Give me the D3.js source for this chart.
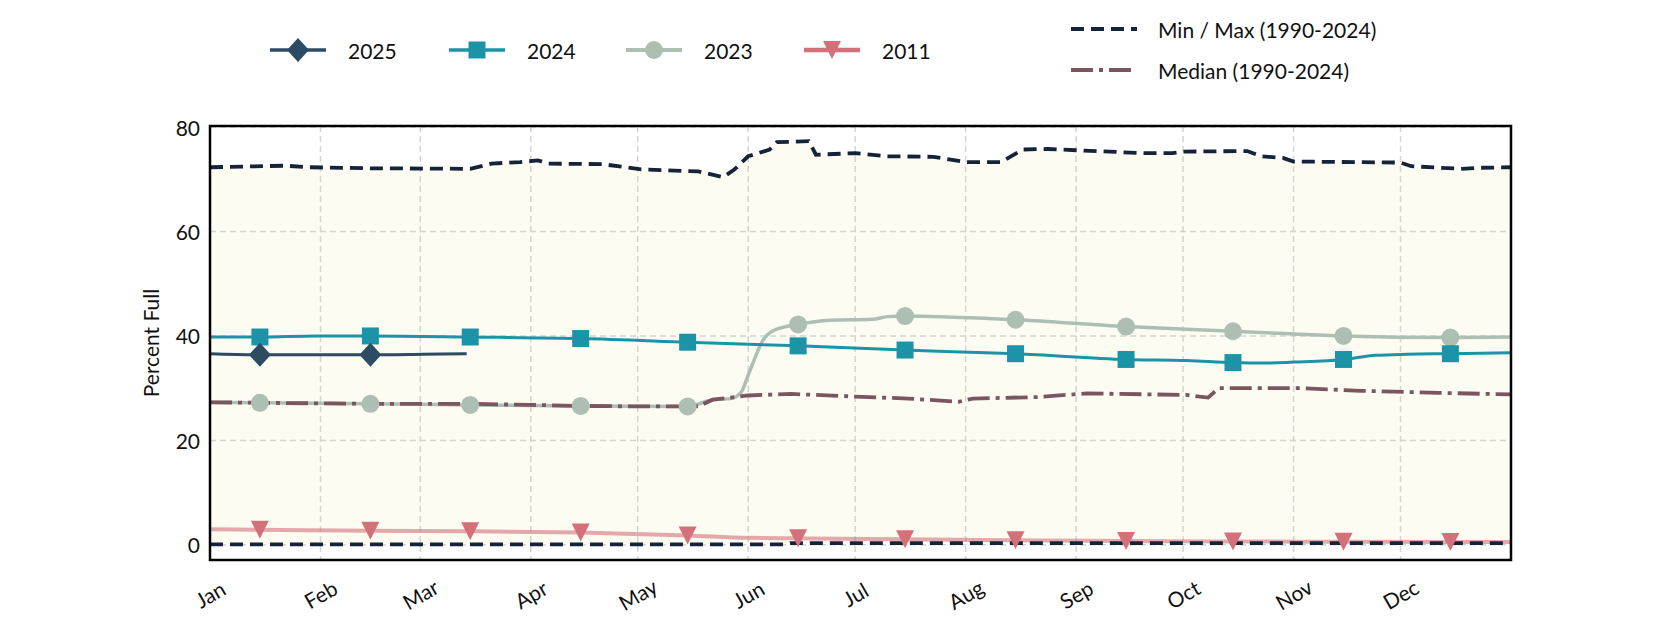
<!DOCTYPE html>
<html><head><meta charset="utf-8">
<script src="https://cdn.jsdelivr.net/npm/d3@7"></script>
<style>
html,body{margin:0;padding:0;background:#fff;}
svg text{font-family:Lato,"Open Sans",sans-serif;fill:#111;}
</style></head>
<body><svg id="chart" width="1680" height="630"></svg>
<script>
// ---------- data (day of year, 0 = Jan 1) ----------
const monthLabels = ["Jan","Feb","Mar","Apr","May","Jun","Jul","Aug","Sep","Oct","Nov","Dec"];
const monthStartDays = [0,31,59,90,120,151,181,212,243,273,304,334];
const markerDays = [14,45,73,104,134,165,195,226,257,287,318,348];
const yTicks = [0,20,40,60,80];

const maxDays = [0,21,28,45,73,79,87,92,95,110,121,137,144,147,151,157,159,168,170,181,190,203,212,222,228,235,262,270,273,291,295,301,304,334,337,351,356,365];
const maxVals = [72.3,72.6,72.3,72.1,72.0,73.0,73.3,73.6,73.0,72.9,71.9,71.5,70.4,71.8,74.4,75.7,77.1,77.3,74.7,75.0,74.4,74.3,73.3,73.3,75.7,75.8,75.0,75.0,75.3,75.4,74.4,74.1,73.4,73.2,72.5,72.0,72.2,72.3];

const minDays = [0,161,163,365];
const minVals = [0.1,0.1,0.35,0.35];

const medianDays = [0,14,45,73,90,104,120,137,141,151,163,181,196,210,214,232,246,274,280,283,306,323,345,365];
const medianVals = [27.3,27.2,27.0,27.0,26.8,26.6,26.5,26.5,27.8,28.6,28.9,28.4,28.0,27.4,28.0,28.3,29.0,28.7,28.2,30.0,30.0,29.5,29.1,28.8];

const days2025 = [0,14,45,60,72];
const vals2025 = [36.6,36.4,36.4,36.5,36.6];

const days2024 = [0,14,30,45,73,104,134,151,165,195,213,226,257,274,287,295,304,318,327,336,348,365];
const vals2024 = [39.8,39.8,40.0,40.0,39.8,39.5,38.8,38.4,38.1,37.3,36.9,36.6,35.5,35.3,34.9,34.8,35.0,35.5,36.3,36.5,36.6,36.8];

const days2023 = [0,14,45,73,104,134,141,146,149,151,153,155,158,165,174,186,190,195,205,226,257,287,303,318,348,365];
const vals2023 = [27.3,27.2,27.0,26.8,26.6,26.5,27.8,28.0,29.2,32.5,36.0,39.0,41.0,42.2,43.0,43.2,43.7,43.8,43.7,43.1,41.8,40.9,40.4,40.0,39.7,39.8];

const days2011 = [0,14,45,73,104,134,151,165,195,226,257,287,318,348,365];
const vals2011 = [3.0,2.9,2.7,2.6,2.35,1.8,1.35,1.25,1.05,0.9,0.75,0.65,0.6,0.55,0.55];

// ---------- layout ----------
const W = 1680, H = 630;
const M = {left:210, right:169, top:126, bottom:70};
const svg = d3.select("#chart");
const x = d3.scaleLinear().domain([0,365]).range([M.left, W - M.right]);
const y = d3.scaleLinear().domain([-2.9,80.2]).range([H - M.bottom, M.top]);

const zip = (ds, vs) => ds.map((d,i)=>({d, v:vs[i]}));
const maxData = zip(maxDays, maxVals), minData = zip(minDays, minVals);

svg.append("defs").append("clipPath").attr("id","clip")
  .append("rect").attr("x",M.left).attr("y",M.top)
  .attr("width",W-M.left-M.right).attr("height",H-M.top-M.bottom);

const plot = svg.append("g").attr("clip-path","url(#clip)");
const gFill = plot.append("g");
const gGrid = plot.append("g");
const gLines = plot.append("g");
const gRef = plot.append("g");
const gMarks = svg.append("g");

// fill between min and max
const allDays = Array.from(new Set([...maxDays, ...minDays])).sort((a,b)=>a-b);
function interp(data, d){
  for(let i=0;i<data.length-1;i++){
    if(d>=data[i].d && d<=data[i+1].d){
      const t=(d-data[i].d)/(data[i+1].d-data[i].d||1);
      return data[i].v + t*(data[i+1].v-data[i].v);
    }
  }
  return data[data.length-1].v;
}
const band = allDays.map(d=>({d, lo:interp(minData,d), hi:interp(maxData,d)}));
gFill.append("path").datum(band)
  .attr("fill","#fcfcf2")
  .attr("d", d3.area().x(p=>x(p.d)).y0(p=>y(p.lo)).y1(p=>y(p.hi)));

// grid
gGrid.selectAll("line.v").data(monthStartDays.slice(1)).join("line")
  .attr("x1",d=>x(d)).attr("x2",d=>x(d)).attr("y1",M.top).attr("y2",H-M.bottom)
  .attr("stroke","#d4d4d0").attr("stroke-width",1.5).attr("stroke-dasharray","6,4");
gGrid.selectAll("line.h").data(yTicks).join("line")
  .attr("x1",M.left).attr("x2",W-M.right).attr("y1",d=>y(d)).attr("y2",d=>y(d))
  .attr("stroke","#d4d4d0").attr("stroke-width",1.5).attr("stroke-dasharray","6,4");

const lineGen = d3.line().x(p=>x(p.d)).y(p=>y(p.v));
const smoothGen = d3.line().x(p=>x(p.d)).y(p=>y(p.v)).curve(d3.curveMonotoneX);

// series
const series = [
  {name:"2011", days:days2011, vals:vals2011, color:"#d4707a", lineOpacity:0.6, width:4, shape:"tri"},
  {name:"2023", days:days2023, vals:vals2023, color:"#adbfb3", lineOpacity:1, width:3.5, shape:"circle"},
  {name:"2024", days:days2024, vals:vals2024, color:"#1a94a6", lineOpacity:1, width:3, shape:"square"},
  {name:"2025", days:days2025, vals:vals2025, color:"#2d4b63", lineOpacity:1, width:3, shape:"diamond"},
];

function markerPath(shape){
  if(shape==="tri") return "M-9,-9L9,-9L0,9Z";
  if(shape==="square") return "M-8.5,-8.5H8.5V8.5H-8.5Z";
  if(shape==="diamond") return "M0,-12L11,0L0,12L-11,0Z";
  return d3.symbol().type(d3.symbolCircle).size(Math.PI*81)();
}

series.forEach(s=>{
  const data = zip(s.days, s.vals);
  gLines.append("path").datum(data)
    .attr("fill","none").attr("stroke",s.color).attr("stroke-opacity",s.lineOpacity)
    .attr("stroke-width",s.width).attr("stroke-linejoin","round").attr("d", smoothGen);
  const mk = data.filter(p=>markerDays.includes(p.d));
  gMarks.append("g").selectAll("path").data(mk).join("path")
    .attr("transform",p=>`translate(${x(p.d)},${y(p.v)})`)
    .attr("d", markerPath(s.shape)).attr("fill", s.color);
});

// median
gRef.append("path").datum(zip(medianDays, medianVals))
  .attr("fill","none").attr("stroke","#7b5560").attr("stroke-width",3.8)
  .attr("stroke-dasharray","22,6,4,6").attr("d", lineGen);

// max/min
[maxData, minData].forEach(dd=>{
  gRef.append("path").datum(dd)
    .attr("fill","none").attr("stroke","#14233a").attr("stroke-width",3.8)
    .attr("stroke-dasharray","13,7").attr("d", lineGen);
});

// frame
svg.append("rect").attr("x",M.left).attr("y",M.top)
  .attr("width",W-M.left-M.right).attr("height",H-M.top-M.bottom)
  .attr("fill","none").attr("stroke","#000").attr("stroke-width",2.5);

// y axis labels
svg.append("g").selectAll("text").data(yTicks).join("text")
  .attr("x",M.left-10).attr("y",d=>y(d)).attr("text-anchor","end")
  .attr("dominant-baseline","central").attr("font-size",21).text(d=>d);
svg.append("text").attr("transform",`translate(150,${(M.top+H-M.bottom)/2}) rotate(-90)`)
  .attr("text-anchor","middle").attr("dominant-baseline","central")
  .attr("font-size",21).text("Percent Full");

// x axis labels
svg.append("g").selectAll("text").data(monthStartDays).join("text")
  .attr("transform",(d)=>`translate(${x(d)},594) rotate(-30)`)
  .attr("text-anchor","middle").attr("dominant-baseline","central")
  .attr("font-size",21).text((d,i)=>monthLabels[i]);

// legend left
const legItems = [series[3], series[2], series[1], series[0]];
const legX = [270, 449, 626, 804];
legItems.forEach((s,i)=>{
  const g = svg.append("g").attr("transform",`translate(${legX[i]},50)`);
  g.append("line").attr("x1",0).attr("x2",56).attr("y1",0).attr("y2",0)
    .attr("stroke",s.color).attr("stroke-width",s.width+0.5);
  g.append("path").attr("transform","translate(28,0)").attr("d",markerPath(s.shape)).attr("fill",s.color);
  g.append("text").attr("x",78).attr("y",0).attr("dominant-baseline","central")
    .attr("font-size",21).text(s.name);
});

// legend right
const rl = [
  {label:"Min / Max (1990-2024)", color:"#14233a", dash:"13,7", y:29},
  {label:"Median (1990-2024)", color:"#7b5560", dash:"22,6,4,6", y:70},
];
rl.forEach(r=>{
  svg.append("line").attr("x1",1071).attr("x2",1137).attr("y1",r.y).attr("y2",r.y)
    .attr("stroke",r.color).attr("stroke-width",3.8).attr("stroke-dasharray",r.dash);
  svg.append("text").attr("x",1158).attr("y",r.y).attr("dominant-baseline","central")
    .attr("font-size",21).text(r.label);
});
</script></body></html>
